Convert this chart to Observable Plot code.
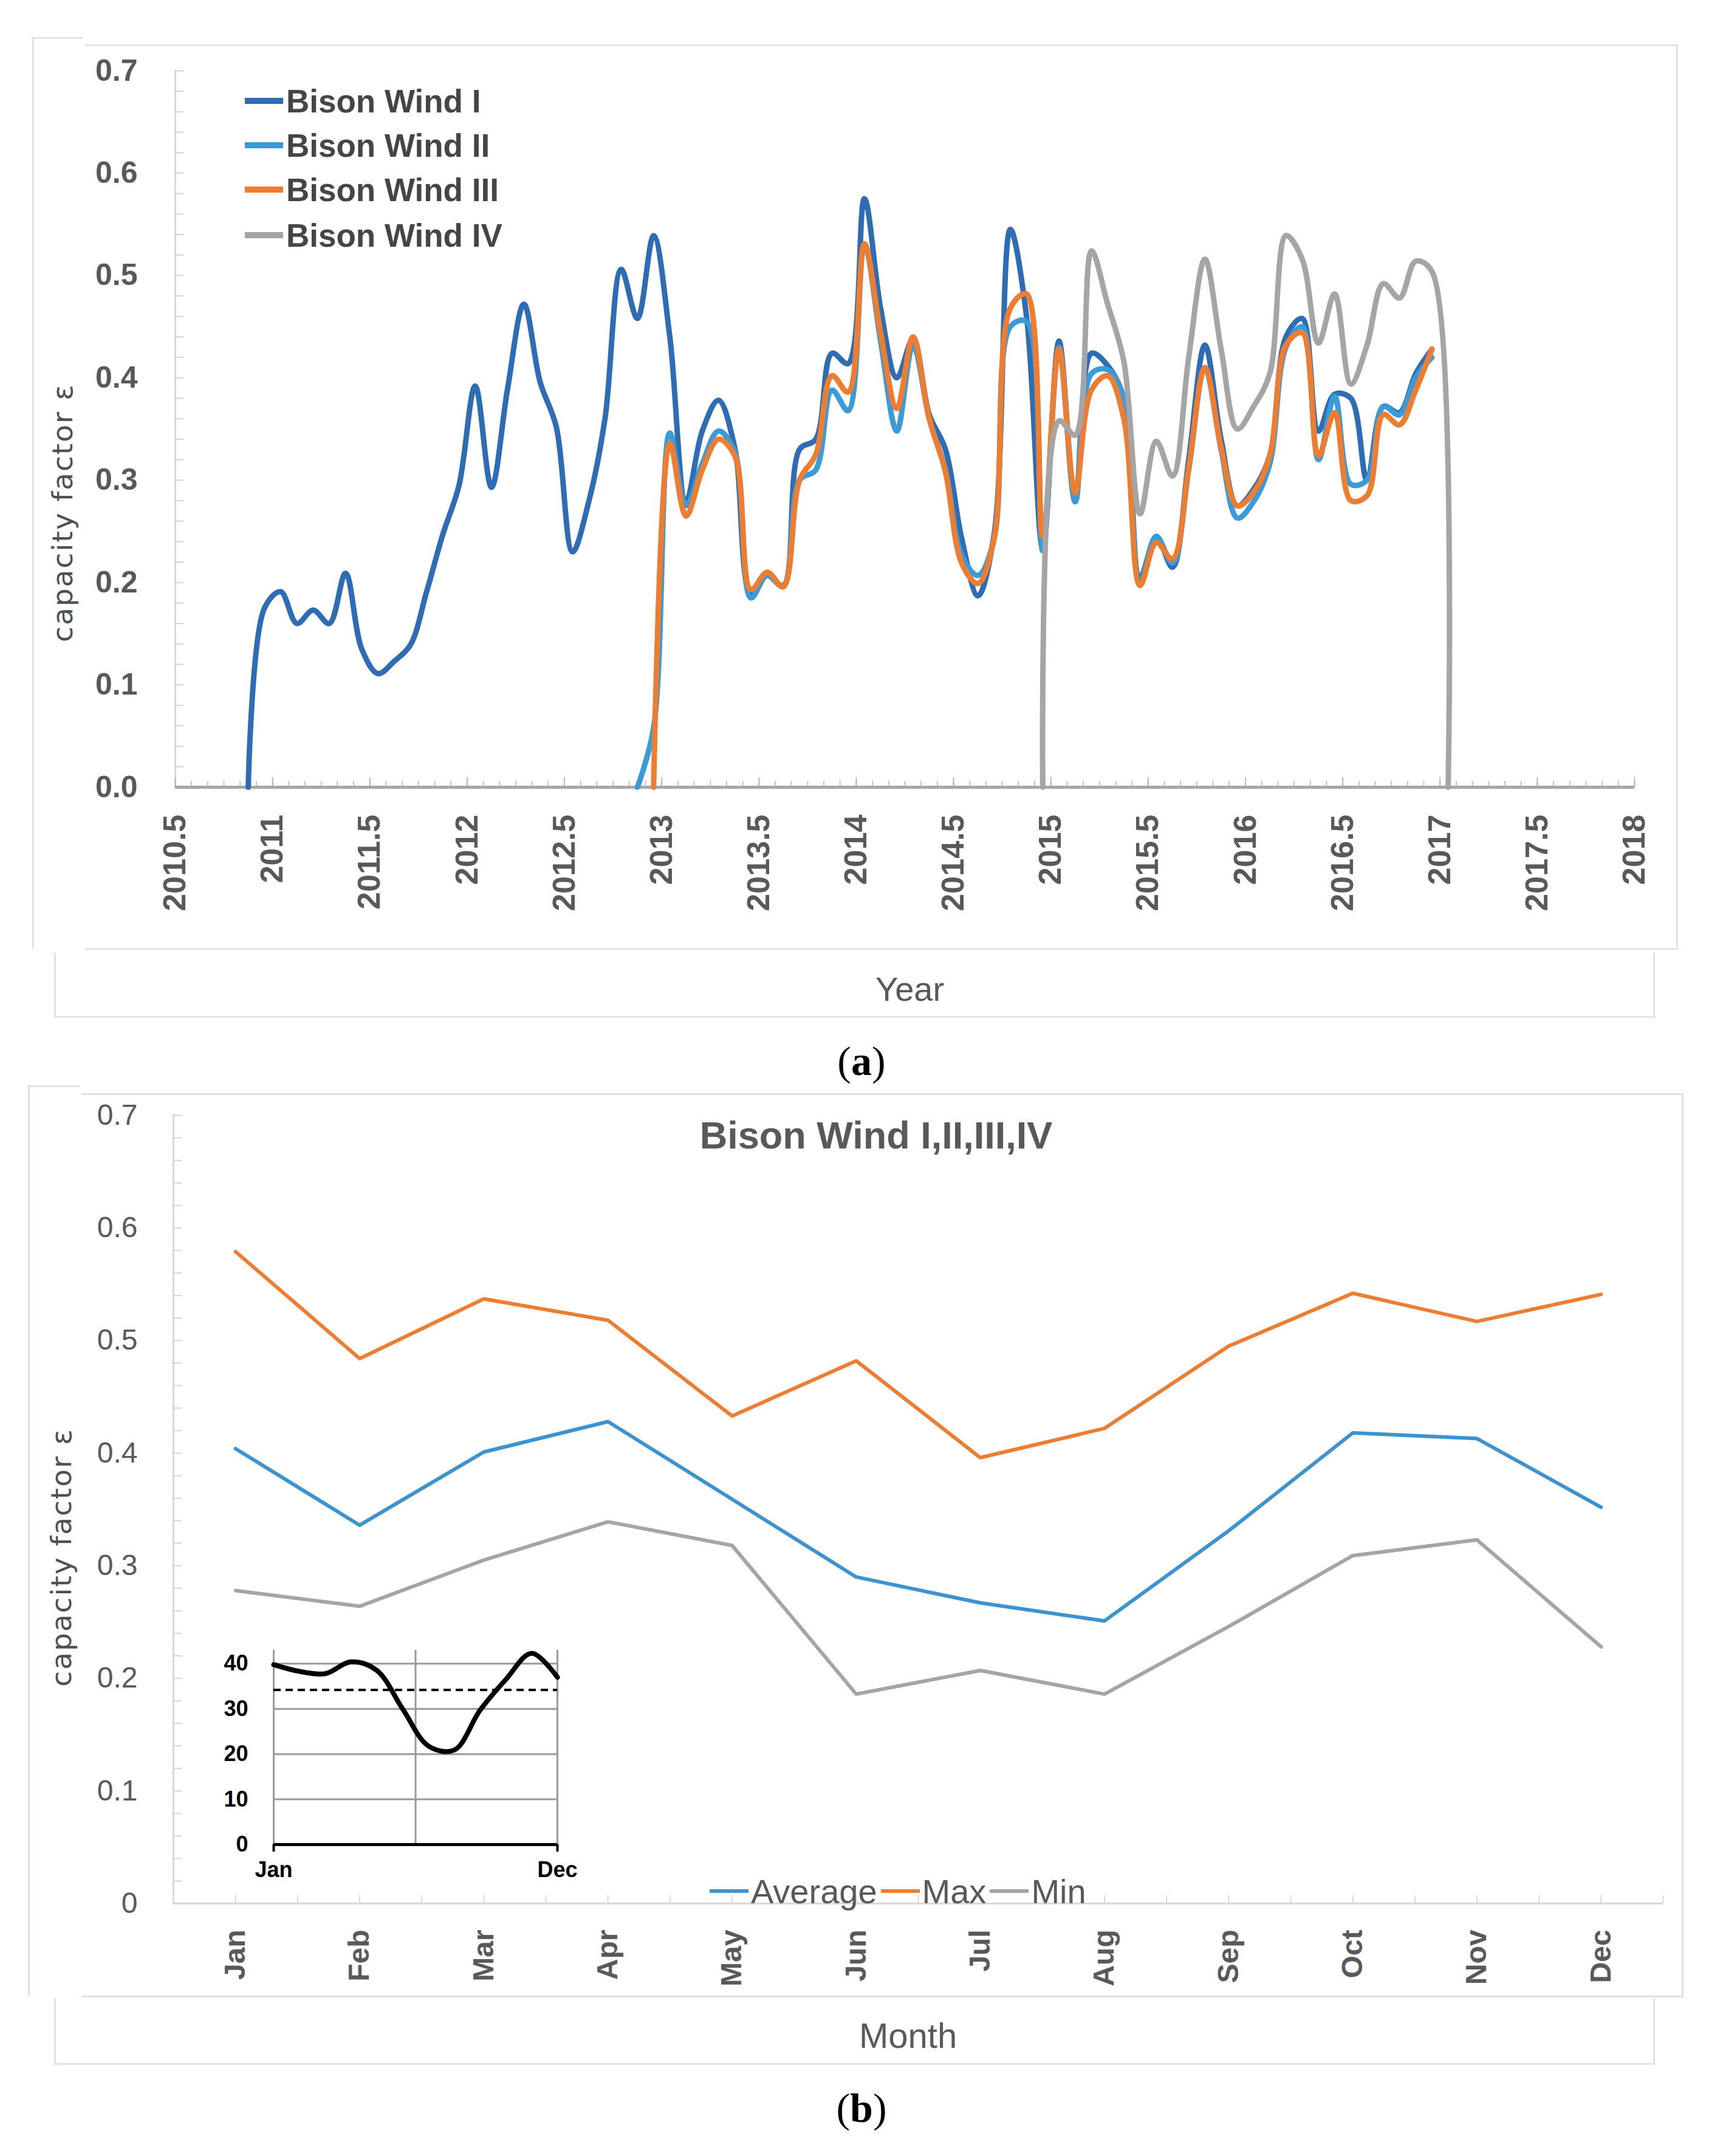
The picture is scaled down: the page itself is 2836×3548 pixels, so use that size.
<!DOCTYPE html>
<html>
<head>
<meta charset="utf-8">
<script src="https://cdn.jsdelivr.net/npm/d3@7"></script>
<script src="https://cdn.jsdelivr.net/npm/@observablehq/plot@0.6"></script>
<style>
html,body{margin:0;padding:0;background:#fff;}
#page{position:relative;width:2836px;height:3548px;background:#fff;overflow:hidden;}
.abs{position:absolute;}
.ln{position:absolute;background:#E2E2E2;}
.txt{position:absolute;white-space:nowrap;}
</style>
</head>
<body>
<div id="page"></div>
<script>
// ---------------- DATA ----------------
// Panel (a): monthly capacity factor, start = [year, month]
const seriesNames = ["Bison Wind I", "Bison Wind II", "Bison Wind III", "Bison Wind IV"];
const seriesColors = ["#2E6DB4", "#3A9BD9", "#ED7D31", "#A5A5A5"];

const startI = [2010, 11];
const bisonI = [0, 0.175,
  0.191, 0.160, 0.173, 0.160, 0.209, 0.135, 0.111, 0.123, 0.139, 0.191, 0.247, 0.295,
  0.392, 0.293, 0.390, 0.472, 0.396, 0.352, 0.230, 0.279, 0.360, 0.506, 0.458, 0.539,
  0.440, 0.279, 0.348, 0.378, 0.332, 0.190, 0.207, 0.197, 0.330, 0.340, 0.424, 0.414,
  0.575, 0.468, 0.400, 0.438, 0.364, 0.330, 0.243, 0.187, 0.247, 0.545, 0.460, 0.233,
  0.436, 0.279, 0.424, 0.412, 0.380, 0.205, 0.245, 0.215, 0.320, 0.432, 0.340, 0.275,
  0.291, 0.324, 0.440, 0.458, 0.348, 0.384, 0.380, 0.300, 0.372, 0.366, 0.404, 0.428];

const startII = [2012, 11];
const bisonII = [0, 0.058,
  0.346, 0.275, 0.316, 0.348, 0.328, 0.185, 0.207, 0.196, 0.300, 0.310, 0.388, 0.368,
  0.530, 0.436, 0.348, 0.432, 0.360, 0.310, 0.227, 0.207, 0.243, 0.450, 0.455, 0.231,
  0.430, 0.279, 0.404, 0.408, 0.380, 0.200, 0.245, 0.219, 0.310, 0.410, 0.330, 0.263,
  0.279, 0.316, 0.430, 0.450, 0.320, 0.382, 0.296, 0.300, 0.372, 0.364, 0.400, 0.420];

const startIII = [2012, 12];
const bisonIII = [0,
  0.336, 0.265, 0.310, 0.340, 0.324, 0.193, 0.210, 0.196, 0.300, 0.325, 0.402, 0.386,
  0.531, 0.444, 0.370, 0.440, 0.360, 0.308, 0.219, 0.199, 0.243, 0.468, 0.482, 0.245,
  0.428, 0.288, 0.388, 0.402, 0.360, 0.197, 0.239, 0.223, 0.312, 0.410, 0.332, 0.275,
  0.288, 0.324, 0.432, 0.444, 0.324, 0.366, 0.280, 0.285, 0.364, 0.354, 0.388, 0.428];

const startIV = [2014, 12];
const bisonIV = [0,
  0.358, 0.344, 0.524, 0.472, 0.416, 0.267, 0.338, 0.304, 0.420, 0.516, 0.428, 0.350,
  0.372, 0.404, 0.539, 0.516, 0.434, 0.482, 0.394, 0.432, 0.492, 0.478, 0.514, 0.504,
  0];

const yearTicks = [2010.5, 2011, 2011.5, 2012, 2012.5, 2013, 2013.5, 2014, 2014.5, 2015, 2015.5, 2016, 2016.5, 2017, 2017.5, 2018];
const yearLabels = ["2010.5", "2011", "2011.5", "2012", "2012.5", "2013", "2013.5", "2014", "2014.5", "2015", "2015.5", "2016", "2016.5", "2017", "2017.5", "2018"];
const yTicksA = [0, 0.1, 0.2, 0.3, 0.4, 0.5, 0.6, 0.7];
const yLabelsA = ["0.0", "0.1", "0.2", "0.3", "0.4", "0.5", "0.6", "0.7"];

// Panel (b): monthly statistics
const monthNames = ["Jan", "Feb", "Mar", "Apr", "May", "Jun", "Jul", "Aug", "Sep", "Oct", "Nov", "Dec"];
const statNames = ["Average", "Max", "Min"];
const statColors = ["#3D93CF", "#ED7D31", "#A5A5A5"];
const avgVals = [0.404, 0.336, 0.401, 0.428, 0.359, 0.290, 0.267, 0.251, 0.331, 0.418, 0.413, 0.352];
const maxVals = [0.579, 0.484, 0.537, 0.518, 0.433, 0.482, 0.396, 0.422, 0.495, 0.542, 0.517, 0.541];
const minVals = [0.278, 0.264, 0.305, 0.339, 0.318, 0.186, 0.207, 0.186, 0.246, 0.309, 0.323, 0.228];
const yTicksB = [0, 0.1, 0.2, 0.3, 0.4, 0.5, 0.6, 0.7];
const yLabelsB = ["0", "0.1", "0.2", "0.3", "0.4", "0.5", "0.6", "0.7"];
const titleB = "Bison Wind I,II,III,IV";

// Inset
const insetVals = [39.8, 38.3, 37.8, 40.4, 38.5, 30.0, 21.8, 20.9, 29.7, 36.5, 42.3, 37.0];
const insetThreshold = 34.2;
const insetYTicks = [0, 10, 20, 30, 40];
const insetXTicks = [1, 12];
const insetXLabels = ["Jan", "Dec"];
const insetGridX = [1, 6.5, 12];

// ---------------- BUILD ----------------
function monthly(start, values, name) {
  return values.map((v, i) => {
    const m0 = start[1] - 1 + i;
    const year = start[0] + Math.floor(m0 / 12);
    const month = (m0 % 12) + 1;
    return {series: name, t: year + (month - 0.5) / 12, v};
  });
}
const dataA = [
  ...monthly(startI, bisonI, seriesNames[0]),
  ...monthly(startII, bisonII, seriesNames[1]),
  ...monthly(startIII, bisonIII, seriesNames[2]),
  ...monthly(startIV, bisonIV, seriesNames[3])
];
const dataB = [avgVals, maxVals, minVals].flatMap((arr, s) =>
  arr.map((v, i) => ({series: statNames[s], m: i + 1, v})));
const insetData = insetVals.map((v, i) => ({m: i + 1, v}));

const SANS = "'Liberation Sans', Arial, sans-serif";
const page = document.getElementById("page");

function place(el, left, top) {
  el.style.position = "absolute";
  el.style.left = left + "px";
  el.style.top = top + "px";
  page.appendChild(el);
}
function line(l, t, w, h) {
  const d = document.createElement("div");
  d.className = "ln";
  d.style.left = l + "px"; d.style.top = t + "px";
  d.style.width = w + "px"; d.style.height = h + "px";
  page.appendChild(d);
}
function text(str, l, t, css) {
  const d = document.createElement("div");
  d.className = "txt";
  d.textContent = str;
  d.style.left = l + "px"; d.style.top = t + "px";
  Object.assign(d.style, css || {});
  page.appendChild(d);
  return d;
}

// frames panel a
line(52, 61, 84, 3);
line(140, 73, 2622, 3);
line(53, 61, 3, 1500);
line(2759, 73, 3, 1490);
line(140, 1560, 2622, 3);
line(89, 1568, 3, 106);
line(2721, 1568, 3, 106);
line(89, 1672, 2635, 3);
// frames panel b
line(45, 1786, 86, 3);
line(134, 1799, 2636, 3);
line(46, 1786, 3, 1498);
line(2768, 1799, 3, 1488);
line(134, 3284, 2636, 3);
line(89, 3288, 3, 109);
line(2721, 3288, 3, 109);
line(89, 3395, 2635, 3);

// ---------------- PLOT A ----------------
const plotA = Plot.plot({
  width: 2836, height: 1560,
  marginLeft: 288, marginRight: 146, marginTop: 116, marginBottom: 265,
  style: {fontFamily: SANS, background: "transparent", color: "#595959", overflow: "visible"},
  x: {domain: [2010.5, 2018], label: null},
  y: {domain: [0, 0.7], label: null},
  color: {domain: seriesNames, range: seriesColors},
  marks: [
    Plot.frame({anchor: "left", stroke: "#D9D9D9", strokeWidth: 3}),
    Plot.axisY(d3.range(0, 0.7001, 0.02), {tickSize: -14, fill: "none", stroke: "#D4D4D4", strokeWidth: 2, label: null}),
    Plot.axisY(yTicksA, {tickSize: 0, tickPadding: 62, tickFormat: d => yLabelsA[yTicksA.indexOf(d)],
      fontSize: 50, fontWeight: "bold", color: "#595959", label: null}),
    Plot.axisX(d3.range(2010.5, 2018.001, 1 / 12), {tickSize: -10, fill: "none", stroke: "#C4C4C4", strokeWidth: 2, label: null}),
    Plot.axisX(yearTicks, {tickSize: -16, fill: "none", stroke: "#B8B8B8", strokeWidth: 2, label: null}),
    Plot.axisX(yearTicks, {tickSize: 0, tickPadding: 45, tickRotate: -90,
      tickFormat: d => yearLabels[yearTicks.indexOf(d)],
      fontSize: 52, fontWeight: "bold", color: "#595959", label: null}),
    Plot.ruleY([0], {stroke: "#A6A6A6", strokeWidth: 5}),
    Plot.line(dataA, {x: "t", y: "v", z: "series", stroke: "series", strokeWidth: 9, curve: "catmull-rom"})
  ]
});
place(plotA, 0, 0);

// legend a
seriesNames.forEach((name, i) => {
  const cy = [166, 239, 312, 387][i];
  const row = document.createElement("div");
  row.style.display = "flex";
  row.style.alignItems = "center";
  row.style.height = "70px";
  const sw = document.createElement("span");
  sw.style.display = "inline-block";
  sw.style.width = "63px"; sw.style.height = "10px";
  sw.style.background = seriesColors[i];
  sw.style.marginRight = "5px";
  const tx = document.createElement("span");
  tx.textContent = name;
  tx.style.font = `bold 53px ${SANS}`;
  tx.style.color = "#454545";
  row.appendChild(sw); row.appendChild(tx);
  place(row, 403, cy - 35);
});

// y title a
text("capacity factor ε", 102, 844, {
  font: `47px 'DejaVu Sans', sans-serif`, letterSpacing: "2px", color: "#505050",
  transform: "translate(-50%,-50%) rotate(-90deg)"
});
text("Year", 1441, 1627, {font: `56px ${SANS}`, color: "#595959", transform: "translateY(-50%)"});

// (a)
const capA = text("", 1418, 1746, {font: `68px 'Liberation Serif', 'Times New Roman', serif`, color: "#000", transform: "translate(-50%,-50%)"});
capA.innerHTML = "(<b>a</b>)";

// ---------------- PLOT B ----------------
const plotB = Plot.plot({
  width: 2836, height: 1600,
  marginLeft: 285, marginRight: 99, marginTop: 135, marginBottom: 168,
  style: {fontFamily: SANS, background: "transparent", color: "#595959", overflow: "visible"},
  x: {domain: [0.5, 12.5], label: null},
  y: {domain: [0, 0.7], label: null},
  color: {domain: statNames, range: statColors},
  marks: [
    Plot.frame({anchor: "left", stroke: "#D9D9D9", strokeWidth: 3}),
    Plot.ruleY([0], {stroke: "#D9D9D9", strokeWidth: 3}),
    Plot.axisY(d3.range(0, 0.7001, 0.02), {tickSize: -14, fill: "none", stroke: "#D4D4D4", strokeWidth: 2, label: null}),
    Plot.axisY(yTicksB, {tickSize: 0, tickPadding: 59, tickFormat: d => yLabelsB[yTicksB.indexOf(d)],
      fontSize: 48, color: "#595959", label: null}),
    Plot.axisX(d3.range(0.5, 12.51, 0.5), {tickSize: -13, fill: "none", stroke: "#DADADA", strokeWidth: 2, label: null}),
    Plot.axisX(d3.range(1, 13), {tickSize: 0, tickPadding: 43, tickRotate: -90,
      tickFormat: d => monthNames[d - 1],
      fontSize: 48, fontWeight: "bold", color: "#595959", label: null}),
    Plot.line(dataB, {x: "m", y: "v", z: "series", stroke: "series", strokeWidth: 6})
  ]
});
place(plotB, 0, 1700);

// title b
text(titleB, 1442, 1868, {font: `bold 63px ${SANS}`, color: "#595959", transform: "translate(-50%,-50%)"});

// legend b
const legB = document.createElement("div");
legB.style.display = "flex";
legB.style.alignItems = "center";
legB.style.height = "70px";
statNames.forEach((name, i) => {
  const sw = document.createElement("span");
  sw.style.display = "inline-block";
  sw.style.width = "64px"; sw.style.height = "6px";
  sw.style.background = statColors[i];
  sw.style.marginRight = "4px";
  sw.style.marginLeft = i ? "6px" : "0";
  const tx = document.createElement("span");
  tx.textContent = name;
  tx.style.font = `56px ${SANS}`;
  tx.style.color = "#595959";
  legB.appendChild(sw); legB.appendChild(tx);
});
place(legB, 1168, 3112 - 35);

// y title b
text("capacity factor ε", 100, 2563, {
  font: `47px 'DejaVu Sans', sans-serif`, letterSpacing: "2px", color: "#505050",
  transform: "translate(-50%,-50%) rotate(-90deg)"
});
text("Month", 1414, 3349, {font: `58px ${SANS}`, color: "#595959", transform: "translateY(-50%)"});
const capB = text("", 1418, 3469, {font: `68px 'Liberation Serif', 'Times New Roman', serif`, color: "#000", transform: "translate(-50%,-50%)"});
capB.innerHTML = "(<b>b</b>)";

// ---------------- INSET ----------------
const inset = Plot.plot({
  width: 680, height: 430,
  marginLeft: 150, marginRight: 63, marginTop: 35, marginBottom: 75,
  style: {fontFamily: SANS, background: "transparent", color: "#000", overflow: "visible"},
  x: {domain: [1, 12], label: null},
  y: {domain: [0, 43], label: null},
  marks: [
    Plot.gridY(insetYTicks.slice(1), {stroke: "#9A9A9A", strokeWidth: 3, strokeOpacity: 1}),
    Plot.gridX(insetGridX, {stroke: "#9A9A9A", strokeWidth: 3, strokeOpacity: 1}),
    Plot.ruleY([insetThreshold], {stroke: "#000", strokeWidth: 4, strokeDasharray: "12,8"}),
    Plot.ruleY([0], {stroke: "#000", strokeWidth: 5}),
    Plot.axisY(insetYTicks, {tickSize: 0, tickPadding: 42, fontSize: 36, fontWeight: "bold", color: "#000", label: null}),
    Plot.axisX(insetXTicks, {tickSize: 12, tickPadding: 16, strokeWidth: 4,
      tickFormat: d => insetXLabels[insetXTicks.indexOf(d)],
      fontSize: 36, fontWeight: "bold", color: "#000", label: null}),
    Plot.line(insetData, {x: "m", y: "v", stroke: "#000", strokeWidth: 8, curve: "catmull-rom"})
  ]
});
place(inset, 300, 2680);
</script>
</body>
</html>
